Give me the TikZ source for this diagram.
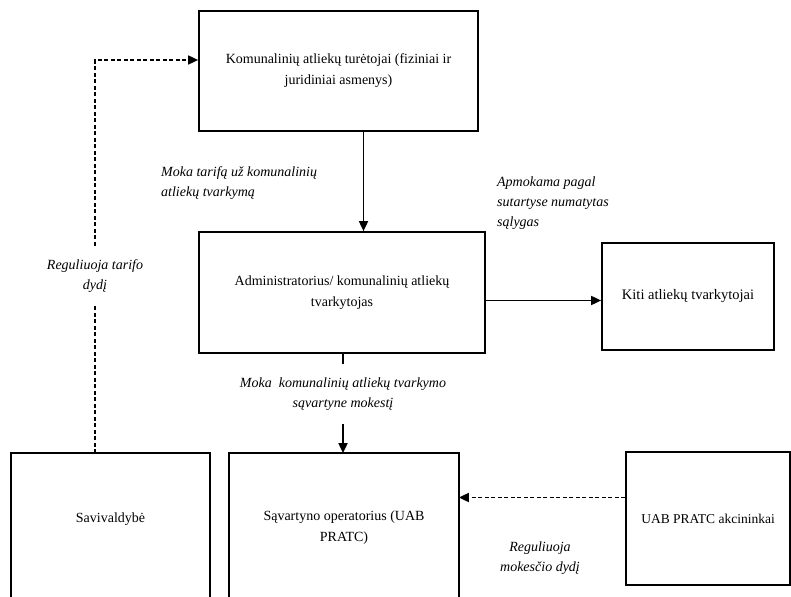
\documentclass[tikz,border=0pt]{standalone}
\usepackage{fontspec}
\setmainfont{Liberation Serif}
\usetikzlibrary{arrows.meta, positioning}

\begin{document}
\begin{tikzpicture}[x=1pt,y=-1pt,line width=1.7pt,
	>={Triangle[length=10pt,width=9pt]},
	box/.style={draw, rectangle, align=center, font=\fontsize{14}{21}\selectfont},
	openbox/.style={box, draw=none},
	lbl/.style={align=center, font=\fontsize{14}{20}\selectfont\itshape},
	dashline/.style={dash pattern=on 4pt off 2.5pt}]
	\useasboundingbox (0,0) rectangle (791,596);
	\clip (0,0) rectangle (791,596);

	\node[box, minimum width=279, minimum height=120] (kom) at (338.5,71) {Komunalinių atliekų turėtojai (fiziniai ir\\juridiniai asmenys)};
	\node[box, minimum width=286, minimum height=121] (adm) at (342,292.5) {Administratorius/ komunalinių atliekų\\tvarkytojas};
	\node[box, minimum width=172, minimum height=107, font=\fontsize{14.5}{21}\selectfont] (kiti) at (688,296.5) {Kiti atliekų tvarkytojai};
	\node[openbox, minimum width=197, minimum height=130] (sav) at (110.5,519) {Savivaldybė};
	\node[openbox, minimum width=228, minimum height=148] (oper) at (344,528) {Sąvartyno operatorius (UAB\\PRATC)};
	\node[box, minimum width=164, minimum height=133, font=\fontsize{13.5}{21}\selectfont] (akc) at (708,518.5) {UAB PRATC akcininkai};

	% boxes cut off at the bottom
	\draw (sav.north west) rectangle ([yshift=-40pt]sav.south east);
	\draw (oper.north west) rectangle ([yshift=-40pt]oper.south east);

	\node[lbl, align=left, anchor=west] (tarifas) at (157,183) {Moka tarifą už komunalinių\\atliekų tvarkymą};
	\node[lbl, align=left, anchor=west] (sutart) at (493,203) {Apmokama pagal\\sutartyse numatytas\\sąlygas};
	\node[lbl, inner ysep=13pt] (reg) at (95,276) {Reguliuoja tarifo\\dydį};
	\node[lbl, inner ysep=13pt] (mokestis) at (343,394) {Moka\ \ komunalinių atliekų tvarkymo\\sąvartyne mokestį};
	\node[lbl] (regmok) at (540,558) {Reguliuoja\\mokesčio dydį};

	\draw[->] ([xshift=25pt]kom.south) -- ([xshift=25pt]kom.south |- adm.north);
	\draw[->] ([yshift=-8pt]adm.east) -- ([yshift=-8pt]adm.east -| kiti.west);
	\draw (mokestis.north |- adm.south) -- (mokestis.north);
	\draw[->] (mokestis.south) -- (mokestis.south |- oper.north);
	\draw[dashline] (reg.south |- sav.north) -- (reg.south);
	\draw[dashline, ->] (reg.north) |- ([yshift=11pt]kom.west);
	\draw[dashline, ->] ([yshift=21pt]akc.west) -- ([yshift=21pt]akc.west -| oper.east);
\end{tikzpicture}
\end{document}
